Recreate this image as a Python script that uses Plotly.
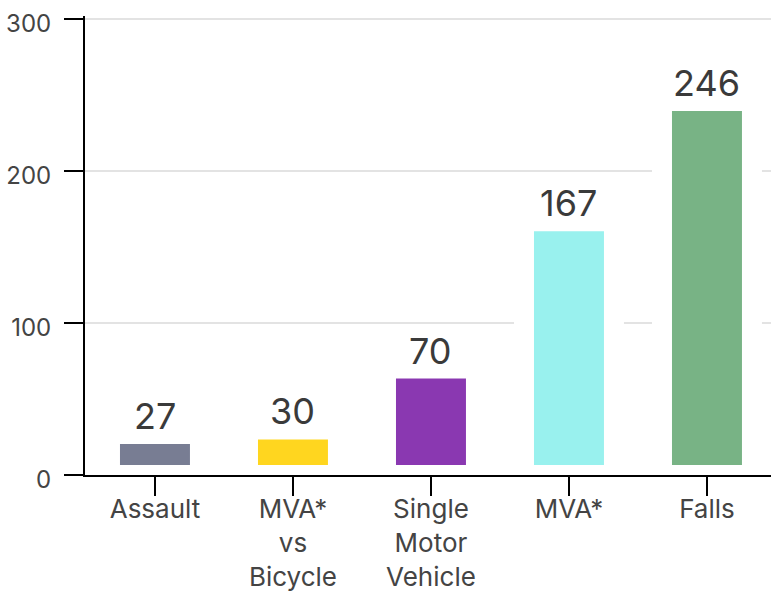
import plotly.graph_objects as go

categories = ["Assault", "MVA*<br>vs<br>Bicycle", "Single<br>Motor<br>Vehicle", "MVA*", "Falls"]
values = [27, 30, 70, 167, 246]
colors = ["#787d93", "#ffd61f", "#8a38b1", "#99f1ee", "#78b385"]
y_ticks = [0, 100, 200, 300]

xs = list(range(len(categories)))

fig = go.Figure()
fig.add_trace(go.Bar(
    x=xs,
    y=values,
    width=0.652,
    marker=dict(color=colors, line=dict(color="white", width=20)),
    cliponaxis=False,
    hoverinfo="skip",
))

for xi, v in zip(xs, values):
    fig.add_annotation(
        x=xi, y=v, text=str(v), showarrow=False,
        yanchor="bottom", yshift=-6,
        font=dict(family="Inter, Lato, sans-serif", size=36, color="#3a3a3a"),
    )

fig.update_layout(
    width=771, height=592,
    margin=dict(l=85, r=0, t=16, b=117, autoexpand=False),
    plot_bgcolor="white", paper_bgcolor="white",
    showlegend=False,
    font=dict(family="Inter, Lato, sans-serif", size=24, color="#444444"),
)
fig.update_xaxes(
    range=[-0.507, 4.464], automargin=False,
    tickmode="array", tickvals=xs, ticktext=categories,
    showline=True, linecolor="black", linewidth=2,
    ticks="outside", ticklen=19, tickwidth=2, tickcolor="black",
    showgrid=False, zeroline=False,
    ticklabelstandoff=-9,
    tickfont=dict(size=26, color="#444444"),
)
fig.update_yaxes(
    range=[0, 302], automargin=False,
    tickmode="array", tickvals=y_ticks,
    showline=True, linecolor="black", linewidth=2,
    ticks="outside", ticklen=19, tickwidth=2, tickcolor="black",
    showgrid=True, gridcolor="#e3e3e3", gridwidth=2,
    zeroline=False,
    ticklabelstandoff=8,
    ticklabelshift=5,
    tickfont=dict(size=24, color="#444444"),
)

fig.write_html("out.html", config={"displayModeBar": False},
               post_script="document.body.style.margin='0';")
